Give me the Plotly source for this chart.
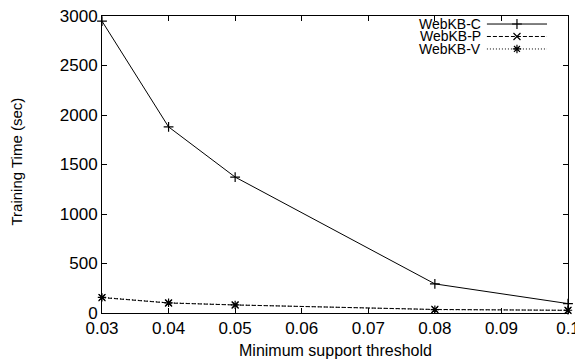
import plotly.graph_objects as go

# Data
support = [0.03, 0.04, 0.05, 0.08, 0.1]
webkb_c = [2948, 1880, 1373, 294, 95]
webkb_p = [156, 101, 81, 36, 27]
webkb_v = [158, 103, 82, 34, 28]
series_names = ["WebKB-C", "WebKB-P", "WebKB-V"]
x_tick_vals = [0.03, 0.04, 0.05, 0.06, 0.07, 0.08, 0.09, 0.1]
x_tick_text = ["0.03", "0.04", "0.05", "0.06", "0.07", "0.08", "0.09", "0.1"]
y_tick_vals = [0, 500, 1000, 1500, 2000, 2500, 3000]

FONT = "Liberation Sans, Arial, Helvetica, sans-serif"
styles = [
    dict(dash="solid", symbol="cross-thin"),
    dict(dash="4px,2px", symbol="x-thin"),
    dict(dash="1px,2px", symbol="asterisk-open"),
]

fig = go.Figure()
for name, ys, st in zip(series_names, [webkb_c, webkb_p, webkb_v], styles):
    fig.add_trace(go.Scatter(
        x=support, y=ys, name=name, mode="lines+markers",
        line=dict(color="black", width=1, dash=st["dash"]),
        marker=dict(symbol=st["symbol"], size=7, color="black",
                    line=dict(color="black", width=1.2)),
        showlegend=False, cliponaxis=False,
    ))

# Custom key (text left, sample right) in an overlay unit frame
key_rows = [0.973, 0.931, 0.889]
key_text_x = 0.818
key_line = (0.826, 0.955)
for name, ky, st in zip(series_names, key_rows, styles):
    fig.add_trace(go.Scatter(
        x=[key_line[0], key_line[1]], y=[ky, ky], mode="lines",
        line=dict(color="black", width=1, dash=st["dash"]),
        xaxis="x2", yaxis="y2", showlegend=False, hoverinfo="skip",
    ))
    fig.add_trace(go.Scatter(
        x=[(key_line[0] + key_line[1]) / 2], y=[ky], mode="markers",
        marker=dict(symbol=st["symbol"], size=7, color="black",
                    line=dict(color="black", width=1.2)),
        xaxis="x2", yaxis="y2", showlegend=False, hoverinfo="skip",
    ))
    fig.add_annotation(x=key_text_x, y=ky, xref="x2", yref="y2", text=name,
                       showarrow=False, xanchor="right", yanchor="middle",
                       font=dict(family=FONT, size=14, color="black"))

axis_common = dict(
    showline=True, linecolor="black", linewidth=1, mirror="allticks",
    ticks="inside", ticklen=5, tickcolor="black", tickwidth=1,
    showgrid=False, zeroline=False, automargin=False,
    ticklabeloverflow="allow",
    tickfont=dict(family=FONT, size=17, color="black"),
)

# The page body adds an 8 px offset, so the figure is 8 px smaller and shifted
fig.update_layout(
    width=575, height=352,
    margin=dict(l=94, r=15, t=8, b=47, autoexpand=False),
    paper_bgcolor="white", plot_bgcolor="white",
    font=dict(family=FONT, size=16, color="black"),
    xaxis=dict(range=[0.03, 0.1], tickvals=x_tick_vals, ticktext=x_tick_text,
               **axis_common),
    yaxis=dict(range=[0, 3000], tickvals=y_tick_vals, **axis_common),
    xaxis2=dict(overlaying="x", range=[0, 1], visible=False, automargin=False),
    yaxis2=dict(overlaying="y", range=[0, 1], visible=False, automargin=False),
)

# Axis titles
fig.add_annotation(text="Minimum support threshold", xref="paper", yref="paper",
                   x=0.5, y=0, yshift=-37, showarrow=False,
                   xanchor="center", yanchor="middle",
                   font=dict(family=FONT, size=16, color="black"))
fig.add_annotation(text="Training Time (sec)", xref="paper", yref="paper",
                   x=0, y=0.51, xshift=-85, showarrow=False, textangle=-90,
                   xanchor="center", yanchor="middle",
                   font=dict(family=FONT, size=15, color="black"))

fig.write_html("out.html")
